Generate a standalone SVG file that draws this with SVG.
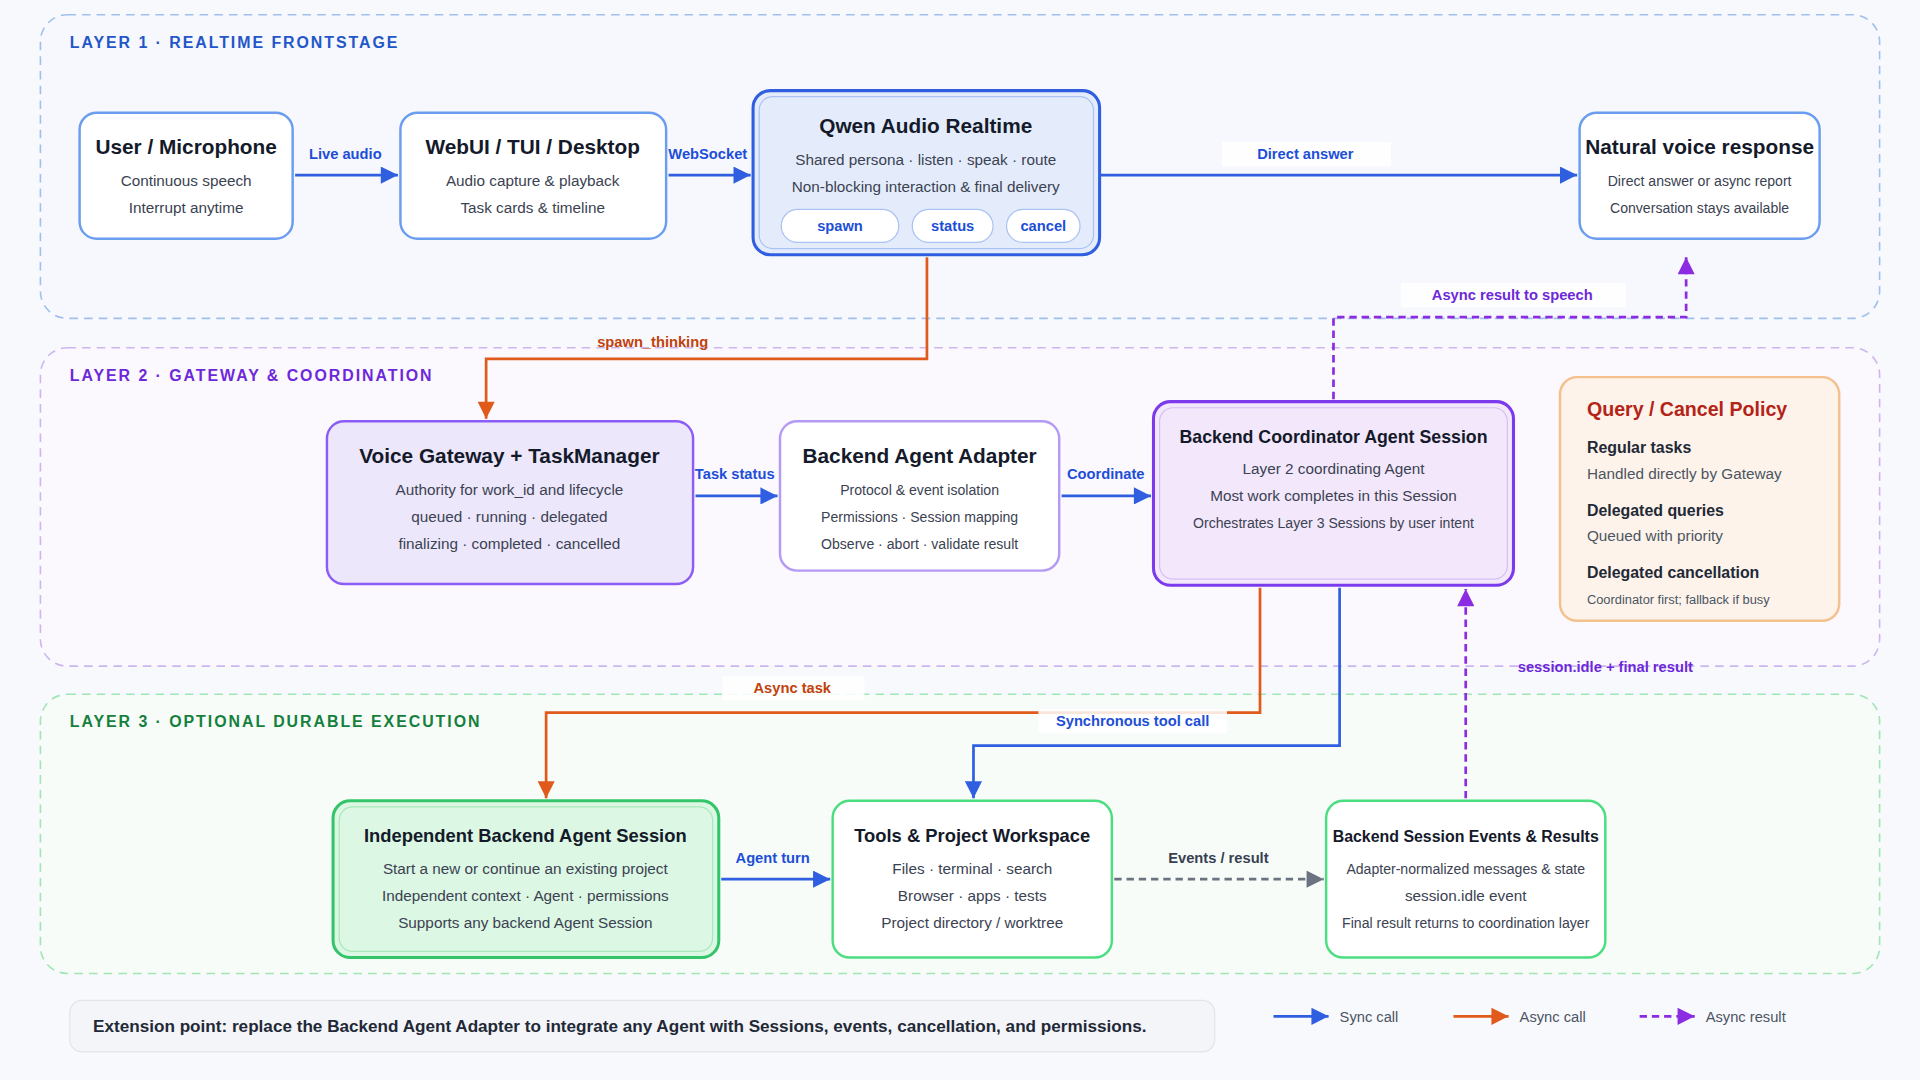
<svg xmlns="http://www.w3.org/2000/svg" width="1920" height="1080" viewBox="0 0 1920 1080">
<defs>
<style>
text{font-family:"Liberation Sans",Arial,sans-serif}
.t{font-size:17px;font-weight:bold;fill:#141a2a;text-anchor:middle}
.t2{font-size:14.5px;font-weight:bold;fill:#141a2a;text-anchor:middle}
.b{font-size:12.5px;fill:#3b4252;text-anchor:middle}
.lay{font-size:13px;font-weight:bold;letter-spacing:1.6px}
.lb{font-size:12px;font-weight:bold;text-anchor:middle}
.blue{fill:#1d4ed8}.org{fill:#c2410c}.pur{fill:#6d28d9}.gr{fill:#374151}
.cs{fill:none;stroke-width:2.2}
.sb{stroke:#2f5fe0}.so{stroke:#e05a1c}.sp{stroke:#8b2be2;stroke-dasharray:6 4}.sg{stroke:#6b7280;stroke-dasharray:6 4}
.lbg{fill:#ffffff;opacity:.85}
</style>
<marker id="ab" viewBox="0 0 10 10" refX="10" refY="5" markerWidth="20" markerHeight="14" markerUnits="userSpaceOnUse" orient="auto"><path d="M0,0L10,5L0,10z" fill="#2f5fe0"/></marker>
<marker id="ao" viewBox="0 0 10 10" refX="10" refY="5" markerWidth="20" markerHeight="14" markerUnits="userSpaceOnUse" orient="auto"><path d="M0,0L10,5L0,10z" fill="#e05a1c"/></marker>
<marker id="ap" viewBox="0 0 10 10" refX="10" refY="5" markerWidth="20" markerHeight="14" markerUnits="userSpaceOnUse" orient="auto"><path d="M0,0L10,5L0,10z" fill="#8b2be2"/></marker>
<marker id="ag" viewBox="0 0 10 10" refX="10" refY="5" markerWidth="20" markerHeight="14" markerUnits="userSpaceOnUse" orient="auto"><path d="M0,0L10,5L0,10z" fill="#6b7280"/></marker>
</defs>
<rect width="1920" height="1080" fill="#f8f9fc"/>
<g transform="scale(1.2245)">
<g id="layers">
<rect x="33" y="12" width="1502" height="248" rx="22" fill="#f6f8fd" stroke="#9fc0ee" stroke-width="1.3" stroke-dasharray="7 5"/>
<text x="57" y="39" class="lay" fill="#2356c9">LAYER 1 · REALTIME FRONTSTAGE</text>
<rect x="33" y="284" width="1502" height="260" rx="22" fill="#fbf8fe" stroke="#cdb6f0" stroke-width="1.3" stroke-dasharray="7 5"/>
<text x="57" y="311" class="lay" fill="#6d28d9">LAYER 2 · GATEWAY &amp; COORDINATION</text>
<rect x="33" y="567" width="1502" height="228" rx="22" fill="#f7fcf8" stroke="#9ee6b4" stroke-width="1.3" stroke-dasharray="7 5"/>
<text x="57" y="594" class="lay" fill="#15803d">LAYER 3 · OPTIONAL DURABLE EXECUTION</text>
</g>
<g id="connectors">
<path class="cs sb" d="M241,143H325" marker-end="url(#ab)"/>
<path class="cs sb" d="M546,143H613" marker-end="url(#ab)"/>
<path class="cs sb" d="M899,143H1288" marker-end="url(#ab)"/>
<path class="cs so" d="M757,210V293H397V342" marker-end="url(#ao)"/>
<path class="cs sp" d="M1089,326V259H1377V210" marker-end="url(#ap)"/>
<path class="cs sb" d="M568,405H635" marker-end="url(#ab)"/>
<path class="cs sb" d="M867,405H940" marker-end="url(#ab)"/>
<path class="cs so" d="M1029,480V582H446V652" marker-end="url(#ao)"/>
<path class="cs sb" d="M1094,480V609H795V652" marker-end="url(#ab)"/>
<path class="cs sp" d="M1197,652V481" marker-end="url(#ap)"/>
<path class="cs sb" d="M589,718H678" marker-end="url(#ab)"/>
<path class="cs sg" d="M910,718H1081" marker-end="url(#ag)"/>
<text x="282" y="130" class="lb blue">Live audio</text>
<text x="578" y="130" class="lb blue">WebSocket</text>
<rect x="998" y="116" width="138" height="20" class="lbg"/>
<text x="1066" y="130" class="lb blue">Direct answer</text>
<text x="533" y="283" class="lb org">spawn_thinking</text>
<rect x="1144" y="231" width="184" height="20" class="lbg"/>
<text x="1235" y="245" class="lb pur">Async result to speech</text>
<text x="600" y="391" class="lb blue">Task status</text>
<text x="903" y="391" class="lb blue">Coordinate</text>
<rect x="590" y="552" width="116" height="20" class="lbg"/>
<text x="647" y="566" class="lb org">Async task</text>
<rect x="848" y="579" width="154" height="20" class="lbg"/>
<text x="925" y="593" class="lb blue">Synchronous tool call</text>
<text x="1311" y="549" class="lb pur">session.idle + final result</text>
<text x="631" y="705" class="lb blue">Agent turn</text>
<text x="995" y="705" class="lb gr">Events / result</text>
</g>
<g id="user">
<rect x="65" y="92" width="174" height="103" rx="14" fill="#fff" stroke="#6a9cf0" stroke-width="2"/>
<text x="152" y="126" class="t">User / Microphone</text>
<text x="152" y="152" class="b">Continuous speech</text>
<text x="152" y="174" class="b">Interrupt anytime</text>
</g>
<g id="webui">
<rect x="327" y="92" width="217" height="103" rx="14" fill="#fff" stroke="#6a9cf0" stroke-width="2"/>
<text x="435" y="126" class="t">WebUI / TUI / Desktop</text>
<text x="435" y="152" class="b">Audio capture &amp; playback</text>
<text x="435" y="174" class="b">Task cards &amp; timeline</text>
</g>
<g id="qwen">
<rect x="615" y="74" width="283" height="134" rx="14" fill="#e4ecfb" stroke="#2f5fe0" stroke-width="2.5"/>
<rect x="620" y="79" width="273" height="124" rx="11" fill="none" stroke="#a9c2f3" stroke-width="1"/>
<text x="756" y="109" class="t">Qwen Audio Realtime</text>
<text x="756" y="135" class="b">Shared persona · listen · speak · route</text>
<text x="756" y="157" class="b">Non-blocking interaction &amp; final delivery</text>
<rect x="638" y="171" width="96" height="27" rx="13.5" fill="#fff" stroke="#a9c2f3"/>
<rect x="745" y="171" width="66" height="27" rx="13.5" fill="#fff" stroke="#a9c2f3"/>
<rect x="822" y="171" width="60" height="27" rx="13.5" fill="#fff" stroke="#a9c2f3"/>
<text x="686" y="189" class="lb blue">spawn</text>
<text x="778" y="189" class="lb blue">status</text>
<text x="852" y="189" class="lb blue">cancel</text>
</g>
<g id="voice">
<rect x="1290" y="92" width="196" height="103" rx="14" fill="#fff" stroke="#6a9cf0" stroke-width="2"/>
<text x="1388" y="126" class="t">Natural voice response</text>
<text x="1388" y="152" class="b" style="font-size:11.5px">Direct answer or async report</text>
<text x="1388" y="174" class="b" style="font-size:11.5px">Conversation stays available</text>
</g>
<g id="gateway">
<rect x="267" y="344" width="299" height="133" rx="14" fill="#ede7fb" stroke="#8b5cf6" stroke-width="2"/>
<text x="416" y="378" class="t">Voice Gateway + TaskManager</text>
<text x="416" y="404" class="b">Authority for work_id and lifecycle</text>
<text x="416" y="426" class="b">queued · running · delegated</text>
<text x="416" y="448" class="b">finalizing · completed · cancelled</text>
</g>
<g id="adapter">
<rect x="637" y="344" width="228" height="122" rx="14" fill="#fff" stroke="#b49af5" stroke-width="2"/>
<text x="751" y="378" class="t">Backend Agent Adapter</text>
<text x="751" y="404" class="b" style="font-size:11.5px">Protocol &amp; event isolation</text>
<text x="751" y="426" class="b" style="font-size:11.5px">Permissions · Session mapping</text>
<text x="751" y="448" class="b" style="font-size:11.5px">Observe · abort · validate result</text>
</g>
<g id="coordinator">
<rect x="942" y="328" width="294" height="150" rx="14" fill="#f3e7fb" stroke="#7c3aed" stroke-width="2.5"/>
<rect x="947" y="333" width="284" height="140" rx="11" fill="none" stroke="#d6c0f3" stroke-width="1"/>
<text x="1089" y="362" class="t2">Backend Coordinator Agent Session</text>
<text x="1089" y="387" class="b">Layer 2 coordinating Agent</text>
<text x="1089" y="409" class="b">Most work completes in this Session</text>
<text x="1089" y="431" class="b" style="font-size:11.5px">Orchestrates Layer 3 Sessions by user intent</text>
</g>
<g id="policy">
<rect x="1274" y="308" width="228" height="199" rx="14" fill="#fdf3ea" stroke="#f3c08e" stroke-width="2"/>
<text x="1296" y="340" style="font-size:16px;font-weight:bold;fill:#b42318">Query / Cancel Policy</text>
<text x="1296" y="370" style="font-size:13px;font-weight:bold;fill:#1f2937">Regular tasks</text>
<text x="1296" y="391" style="font-size:12.5px;fill:#4b5563">Handled directly by Gateway</text>
<text x="1296" y="421" style="font-size:13px;font-weight:bold;fill:#1f2937">Delegated queries</text>
<text x="1296" y="442" style="font-size:12.5px;fill:#4b5563">Queued with priority</text>
<text x="1296" y="472" style="font-size:13px;font-weight:bold;fill:#1f2937">Delegated cancellation</text>
<text x="1296" y="493" style="font-size:10.5px;fill:#4b5563">Coordinator first; fallback if busy</text>
</g>
<g id="independent">
<rect x="272" y="654" width="315" height="128" rx="14" fill="#dcf7e3" stroke="#34c56a" stroke-width="2.5"/>
<rect x="277" y="659" width="305" height="118" rx="11" fill="none" stroke="#a8e8bc" stroke-width="1"/>
<text x="429" y="688" class="t2" style="font-size:15px">Independent Backend Agent Session</text>
<text x="429" y="714" class="b">Start a new or continue an existing project</text>
<text x="429" y="736" class="b">Independent context · Agent · permissions</text>
<text x="429" y="758" class="b">Supports any backend Agent Session</text>
</g>
<g id="tools">
<rect x="680" y="654" width="228" height="128" rx="14" fill="#fff" stroke="#4ade80" stroke-width="2"/>
<text x="794" y="688" class="t2" style="font-size:15px">Tools &amp; Project Workspace</text>
<text x="794" y="714" class="b">Files · terminal · search</text>
<text x="794" y="736" class="b">Browser · apps · tests</text>
<text x="794" y="758" class="b">Project directory / worktree</text>
</g>
<g id="events">
<rect x="1083" y="654" width="228" height="128" rx="14" fill="#fff" stroke="#4ade80" stroke-width="2"/>
<text x="1197" y="688" class="t2" style="font-size:13px">Backend Session Events &amp; Results</text>
<text x="1197" y="714" class="b" style="font-size:11.5px">Adapter-normalized messages &amp; state</text>
<text x="1197" y="736" class="b">session.idle event</text>
<text x="1197" y="758" class="b" style="font-size:11.5px">Final result returns to coordination layer</text>
</g>
<g id="extension">
<rect x="57" y="817" width="935" height="42" rx="10" fill="#f4f5f8" stroke="#e1e4ea"/>
<text x="76" y="843" style="font-size:14px;font-weight:bold;fill:#1f2937">Extension point: replace the Backend Agent Adapter to integrate any Agent with Sessions, events, cancellation, and permissions.</text>
</g>
<g id="legend">
<path class="cs sb" d="M1040,830H1085" marker-end="url(#ab)"/>
<text x="1094" y="835" style="font-size:12px;fill:#4b5563">Sync call</text>
<path class="cs so" d="M1187,830H1232" marker-end="url(#ao)"/>
<text x="1241" y="835" style="font-size:12px;fill:#4b5563">Async call</text>
<path class="cs sp" d="M1339,830H1384" marker-end="url(#ap)"/>
<text x="1393" y="835" style="font-size:12px;fill:#4b5563">Async result</text>
</g>
</g>
</svg>
